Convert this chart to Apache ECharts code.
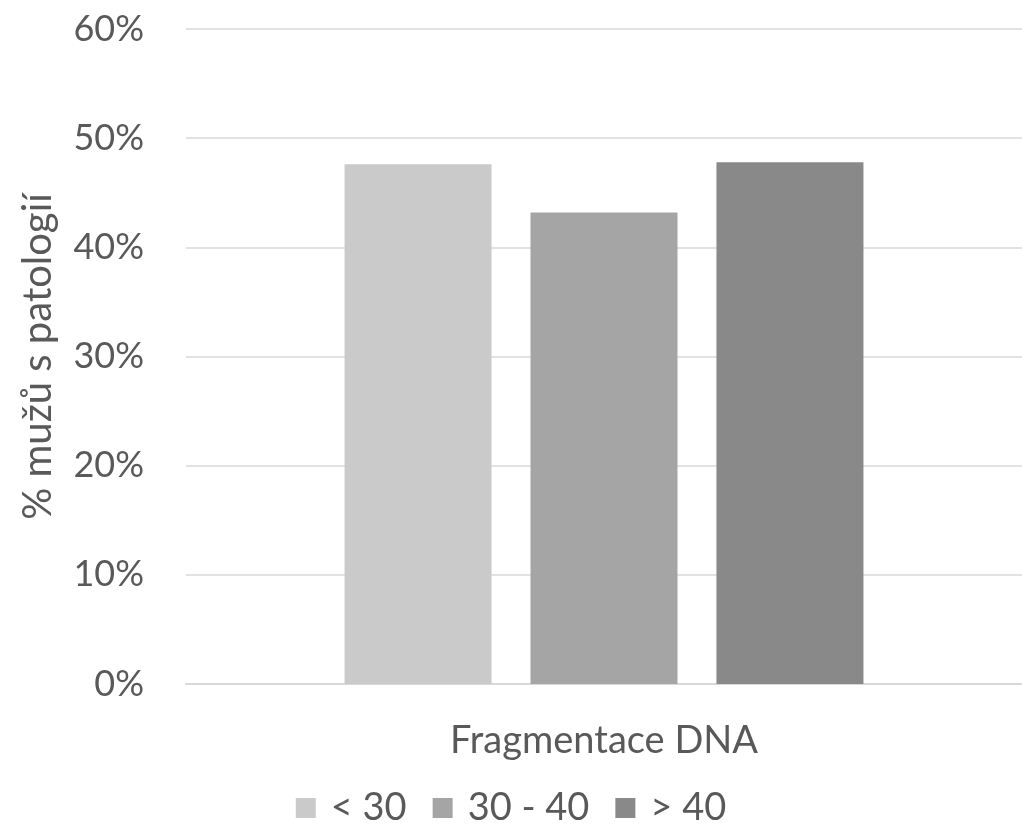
<!DOCTYPE html>
<html><head><meta charset="utf-8">
<script src="https://cdn.jsdelivr.net/npm/echarts@6/dist/echarts.min.js"></script>
<style>html,body{margin:0;padding:0;background:#fff}#c{width:1022px;height:829px}</style>
</head><body><div id="c"></div>
<script>
const categories = ['Fragmentace DNA'];
const seriesNames = ['< 30', '30 - 40', '> 40'];
const seriesValues = [[0.476], [0.432], [0.478]];
const colors = ['#CACACA', '#A5A5A5', '#898989'];
const FONT = 'Lato';
const chart = echarts.init(document.getElementById('c'));
chart.setOption({
  animation: false,
  textStyle: { fontFamily: FONT, color: '#595959' },
  grid: { left: 186, right: 0, top: 29, bottom: 145, containLabel: false },
  legend: {
    top: 784, left: 'center', itemWidth: 20, itemHeight: 20, itemGap: 26,
    icon: 'rect',
    textStyle: { fontFamily: FONT, fontSize: 38, color: '#595959', padding: [0, 0, 0, 10] },
    data: seriesNames
  },
  xAxis: {
    type: 'category', data: categories,
    axisLine: { lineStyle: { color: '#D9D9D9', width: 2 } },
    axisTick: { show: false },
    axisLabel: { fontFamily: FONT, fontSize: 38, color: '#595959', margin: 38 }
  },
  yAxis: {
    type: 'value', min: 0, max: 0.6, interval: 0.1,
    name: '% mužů s patologií', nameLocation: 'middle', nameGap: 128,
    nameTextStyle: { fontFamily: FONT, fontSize: 40, color: '#595959' },
    axisLine: { show: false }, axisTick: { show: false },
    splitLine: { lineStyle: { color: '#D9D9D9', width: 1.5 } },
    axisLabel: { fontFamily: FONT, fontSize: 36, color: '#595959', margin: 42,
      formatter: v => Math.round(v * 100) + '%' }
  },
  series: seriesNames.map((n, i) => ({
    name: n, type: 'bar', data: seriesValues[i], barWidth: 147, barGap: '26.5%',
    itemStyle: { color: colors[i] }
  }))
});
</script></body></html>
